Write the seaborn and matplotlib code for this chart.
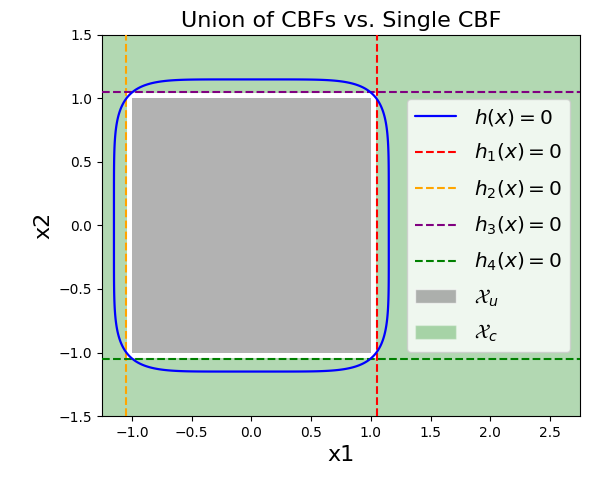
import numpy as np
import matplotlib
matplotlib.use("Agg")
import matplotlib.pyplot as plt
import seaborn as sns
from matplotlib.patches import Rectangle, Patch

# limits of the plot
x_lim = [-1.25, 2.75]
y_lim = [-1.5, 1.5]

# unsafe set (square) and individual CBF boundaries
unsafe_half = 1.0
cbf_offset = 1.05
cbf_names = ["$h_1(x) = 0$", "$h_2(x) = 0$", "$h_3(x) = 0$", "$h_4(x) = 0$"]
cbf_colors = ["red", "orange", "purple", "green"]
cbf_vertical = [True, True, False, False]
cbf_values = [cbf_offset, -cbf_offset, cbf_offset, -cbf_offset]

# single smooth CBF: |x1|^p + |x2|^p = r^p
single_r = 1.15
single_p = 6.0

sns.set_style("ticks", {"axes.edgecolor": "black", "text.color": "black",
                        "xtick.color": "black", "ytick.color": "black",
                        "axes.labelcolor": "black"})
plt.rcParams['font.family'] = ['DejaVu Sans']

fig, ax = plt.subplots(figsize=(5.92, 4.79), dpi=100)
fig.subplots_adjust(left=0.1723, right=0.9797, top=0.927, bottom=0.1315)

# safe set background
ax.add_patch(Rectangle((x_lim[0], y_lim[0]), x_lim[1] - x_lim[0], y_lim[1] - y_lim[0],
                       facecolor="green", alpha=0.3, edgecolor="none", zorder=0))
# white margin + unsafe square
ax.add_patch(Rectangle((-1.04, -1.04), 2.08, 2.08, facecolor="white", edgecolor="none", zorder=1))
ax.add_patch(Rectangle((-unsafe_half, -unsafe_half), 2 * unsafe_half, 2 * unsafe_half,
                       facecolor="gray", alpha=0.6, edgecolor="none", zorder=2))

# h(x) = 0 contour
gx = np.linspace(x_lim[0], x_lim[1], 800)
gy = np.linspace(y_lim[0], y_lim[1], 800)
X, Y = np.meshgrid(gx, gy)
H = np.abs(X) ** single_p + np.abs(Y) ** single_p - single_r ** single_p
ax.contour(X, Y, H, levels=[0], colors="blue", linewidths=1.6, zorder=4)

for name, col, vert, val in zip(cbf_names, cbf_colors, cbf_vertical, cbf_values):
    if vert:
        sns.lineplot(x=[val, val], y=y_lim, color=col, linestyle="--", linewidth=1.5,
                     sort=False, estimator=None, ax=ax, zorder=3)
    else:
        sns.lineplot(x=x_lim, y=[val, val], color=col, linestyle="--", linewidth=1.5,
                     sort=False, estimator=None, ax=ax, zorder=3)

handles = [plt.Line2D([], [], color="blue", linewidth=1.6)]
handles += [plt.Line2D([], [], color=c, linestyle="--", linewidth=1.5) for c in cbf_colors]
handles += [Patch(facecolor="gray", alpha=0.6), Patch(facecolor="green", alpha=0.3)]
labels = ["$h(x) = 0$"] + cbf_names + [r"$\mathcal{X}_u$", r"$\mathcal{X}_c$"]
ax.legend(handles, labels, loc="center right", fontsize=14.5, labelspacing=0.7,
          handletextpad=0.9, framealpha=0.8)

ax.set_xlim(x_lim)
ax.set_ylim(y_lim)
ax.set_xticks(np.arange(-1.0, 2.51, 0.5))
ax.set_yticks(np.arange(-1.5, 1.51, 0.5))
ax.tick_params(labelsize=10)
ax.set_xlabel("x1", fontsize=16)
ax.set_ylabel("x2", fontsize=16)
ax.set_title("Union of CBFs vs. Single CBF", fontsize=16)

fig.savefig("out.png", dpi=100)
